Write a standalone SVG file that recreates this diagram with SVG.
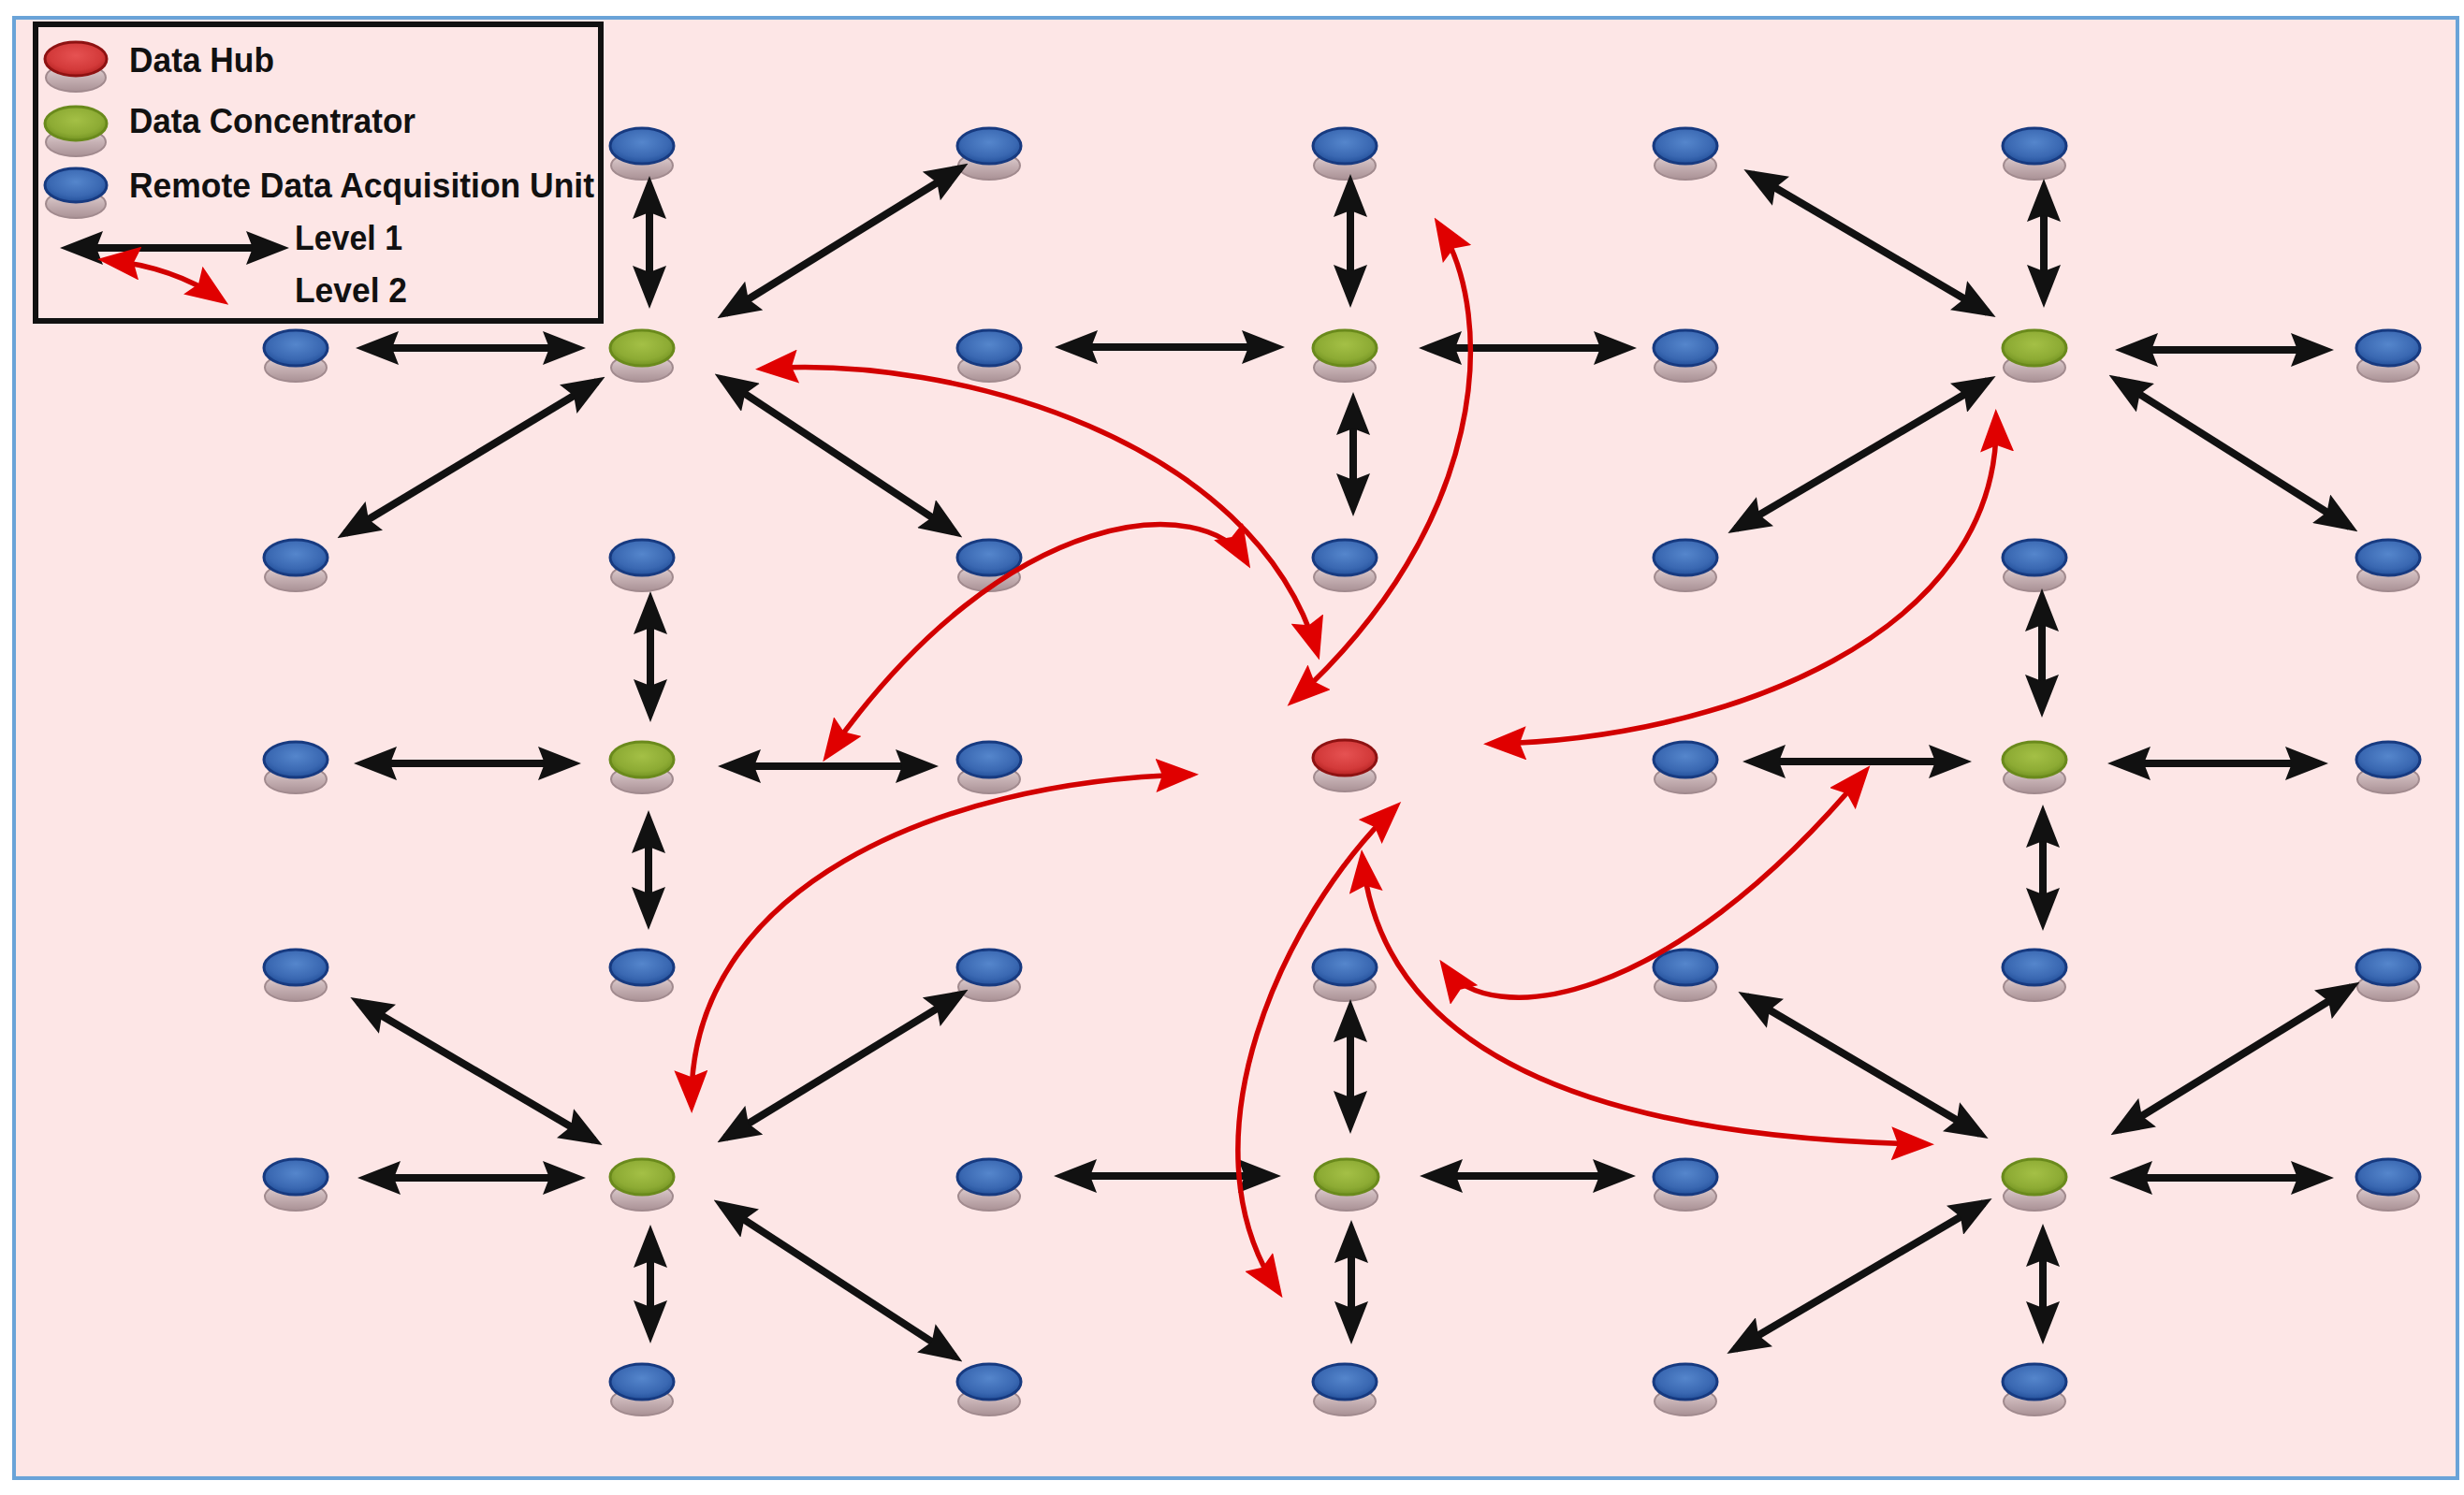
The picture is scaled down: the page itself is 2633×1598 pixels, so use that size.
<svg xmlns="http://www.w3.org/2000/svg" width="2633" height="1598" viewBox="0 0 2633 1598">
<defs>
<style>
.bg{fill:#fde6e6;stroke:#6aa3d8;stroke-width:4}
.legend-box{fill:none;stroke:#111;stroke-width:6}
.lt{font-family:"Liberation Sans",Arial,Helvetica,sans-serif;font-weight:700;font-size:37px;fill:#111}
.base{fill:url(#gBase);stroke:#a18a8e;stroke-width:2}
.blue .top{fill:url(#gBlue);stroke:#173a80;stroke-width:3}
.green .top{fill:url(#gGreen);stroke:#6a8a1c;stroke-width:3}
.red .top{fill:url(#gRed);stroke:#8e1212;stroke-width:3}
.l1{stroke:#111;stroke-width:8;fill:none;marker-start:url(#ab);marker-end:url(#ab)}
.l2{stroke:#d20000;stroke-width:5.5;fill:none;marker-start:url(#ar);marker-end:url(#ar)}
</style>
<radialGradient id="gBlue" cx="50%" cy="40%" r="60%"><stop offset="0" stop-color="#5586cc"/><stop offset="0.7" stop-color="#3a68b2"/><stop offset="1" stop-color="#23509a"/></radialGradient>
<radialGradient id="gGreen" cx="50%" cy="40%" r="60%"><stop offset="0" stop-color="#a4c046"/><stop offset="0.7" stop-color="#8dab34"/><stop offset="1" stop-color="#739322"/></radialGradient>
<radialGradient id="gRed" cx="50%" cy="40%" r="60%"><stop offset="0" stop-color="#e65252"/><stop offset="0.7" stop-color="#d33a3a"/><stop offset="1" stop-color="#b52222"/></radialGradient>
<linearGradient id="gBase" x1="0" y1="0" x2="0" y2="1"><stop offset="0" stop-color="#e8dadb"/><stop offset="0.5" stop-color="#c7b2b5"/><stop offset="1" stop-color="#a99195"/></linearGradient>
<marker id="ab" viewBox="0 0 46 36" refX="36" refY="18" markerWidth="46" markerHeight="36" markerUnits="userSpaceOnUse" orient="auto-start-reverse"><path d="M0,0 L46,18 L0,36 L7,18 Z" fill="#111"/></marker>
<marker id="ar" viewBox="0 0 46 36" refX="36" refY="18" markerWidth="46" markerHeight="36" markerUnits="userSpaceOnUse" orient="auto-start-reverse"><path d="M0,0 L46,18 L0,36 L7,18 Z" fill="#e00000"/></marker>
</defs>
<rect x="0" y="0" width="2633" height="1598" fill="#ffffff"/>
<rect class="bg" x="15" y="19" width="2611" height="1561"/>

<g id="legend">
<rect class="legend-box" x="38" y="26" width="604" height="317"/>
<g class="red"><ellipse class="base" cx="81" cy="83" rx="32" ry="15"/><ellipse class="top" cx="81" cy="63" rx="33" ry="18"/></g>
<g class="green"><ellipse class="base" cx="81" cy="152" rx="32" ry="15"/><ellipse class="top" cx="81" cy="132" rx="33" ry="18"/></g>
<g class="blue"><ellipse class="base" cx="81" cy="218" rx="32" ry="15"/><ellipse class="top" cx="81" cy="198" rx="33" ry="18"/></g>
<text class="lt" x="138" y="77" textLength="155" lengthAdjust="spacingAndGlyphs">Data Hub</text>
<text class="lt" x="138" y="142" textLength="306" lengthAdjust="spacingAndGlyphs">Data Concentrator</text>
<text class="lt" x="138" y="211" textLength="497" lengthAdjust="spacingAndGlyphs">Remote Data Acquisition Unit</text>
<line class="l1" x1="74" y1="265" x2="299" y2="265"/>
<path class="l2" d="M114,278 Q185,285 236,320"/>
<text class="lt" x="315" y="267" textLength="115" lengthAdjust="spacingAndGlyphs">Level 1</text>
<text class="lt" x="315" y="323" textLength="120" lengthAdjust="spacingAndGlyphs">Level 2</text>
</g>

<g id="nodes">
<g id="n-r0c1" class="blue"><ellipse class="base" cx="686" cy="177" rx="33" ry="15"/><ellipse class="top" cx="686" cy="156" rx="34" ry="19"/></g>
<g id="n-r0c2" class="blue"><ellipse class="base" cx="1057" cy="177" rx="33" ry="15"/><ellipse class="top" cx="1057" cy="156" rx="34" ry="19"/></g>
<g id="n-r0c3" class="blue"><ellipse class="base" cx="1437" cy="177" rx="33" ry="15"/><ellipse class="top" cx="1437" cy="156" rx="34" ry="19"/></g>
<g id="n-r0c4" class="blue"><ellipse class="base" cx="1801" cy="177" rx="33" ry="15"/><ellipse class="top" cx="1801" cy="156" rx="34" ry="19"/></g>
<g id="n-r0c5" class="blue"><ellipse class="base" cx="2174" cy="177" rx="33" ry="15"/><ellipse class="top" cx="2174" cy="156" rx="34" ry="19"/></g>

<g id="n-r1c0" class="blue"><ellipse class="base" cx="316" cy="393" rx="33" ry="15"/><ellipse class="top" cx="316" cy="372" rx="34" ry="19"/></g>
<g id="n-r1c1" class="green"><ellipse class="base" cx="686" cy="393" rx="33" ry="15"/><ellipse class="top" cx="686" cy="372" rx="34" ry="19"/></g>
<g id="n-r1c2" class="blue"><ellipse class="base" cx="1057" cy="393" rx="33" ry="15"/><ellipse class="top" cx="1057" cy="372" rx="34" ry="19"/></g>
<g id="n-r1c3" class="green"><ellipse class="base" cx="1437" cy="393" rx="33" ry="15"/><ellipse class="top" cx="1437" cy="372" rx="34" ry="19"/></g>
<g id="n-r1c4" class="blue"><ellipse class="base" cx="1801" cy="393" rx="33" ry="15"/><ellipse class="top" cx="1801" cy="372" rx="34" ry="19"/></g>
<g id="n-r1c5" class="green"><ellipse class="base" cx="2174" cy="393" rx="33" ry="15"/><ellipse class="top" cx="2174" cy="372" rx="34" ry="19"/></g>
<g id="n-r1c6" class="blue"><ellipse class="base" cx="2552" cy="393" rx="33" ry="15"/><ellipse class="top" cx="2552" cy="372" rx="34" ry="19"/></g>

<g id="n-r2c0" class="blue"><ellipse class="base" cx="316" cy="617" rx="33" ry="15"/><ellipse class="top" cx="316" cy="596" rx="34" ry="19"/></g>
<g id="n-r2c1" class="blue"><ellipse class="base" cx="686" cy="617" rx="33" ry="15"/><ellipse class="top" cx="686" cy="596" rx="34" ry="19"/></g>
<g id="n-r2c2" class="blue"><ellipse class="base" cx="1057" cy="617" rx="33" ry="15"/><ellipse class="top" cx="1057" cy="596" rx="34" ry="19"/></g>
<g id="n-r2c3" class="blue"><ellipse class="base" cx="1437" cy="617" rx="33" ry="15"/><ellipse class="top" cx="1437" cy="596" rx="34" ry="19"/></g>
<g id="n-r2c4" class="blue"><ellipse class="base" cx="1801" cy="617" rx="33" ry="15"/><ellipse class="top" cx="1801" cy="596" rx="34" ry="19"/></g>
<g id="n-r2c5" class="blue"><ellipse class="base" cx="2174" cy="617" rx="33" ry="15"/><ellipse class="top" cx="2174" cy="596" rx="34" ry="19"/></g>
<g id="n-r2c6" class="blue"><ellipse class="base" cx="2552" cy="617" rx="33" ry="15"/><ellipse class="top" cx="2552" cy="596" rx="34" ry="19"/></g>

<g id="n-r3c0" class="blue"><ellipse class="base" cx="316" cy="833" rx="33" ry="15"/><ellipse class="top" cx="316" cy="812" rx="34" ry="19"/></g>
<g id="n-r3c1" class="green"><ellipse class="base" cx="686" cy="833" rx="33" ry="15"/><ellipse class="top" cx="686" cy="812" rx="34" ry="19"/></g>
<g id="n-r3c2" class="blue"><ellipse class="base" cx="1057" cy="833" rx="33" ry="15"/><ellipse class="top" cx="1057" cy="812" rx="34" ry="19"/></g>
<g id="hub" class="red"><ellipse class="base" cx="1437" cy="831" rx="33" ry="15"/><ellipse class="top" cx="1437" cy="810" rx="34" ry="19"/></g>
<g id="n-r3c4" class="blue"><ellipse class="base" cx="1801" cy="833" rx="33" ry="15"/><ellipse class="top" cx="1801" cy="812" rx="34" ry="19"/></g>
<g id="n-r3c5" class="green"><ellipse class="base" cx="2174" cy="833" rx="33" ry="15"/><ellipse class="top" cx="2174" cy="812" rx="34" ry="19"/></g>
<g id="n-r3c6" class="blue"><ellipse class="base" cx="2552" cy="833" rx="33" ry="15"/><ellipse class="top" cx="2552" cy="812" rx="34" ry="19"/></g>

<g id="n-r4c0" class="blue"><ellipse class="base" cx="316" cy="1055" rx="33" ry="15"/><ellipse class="top" cx="316" cy="1034" rx="34" ry="19"/></g>
<g id="n-r4c1" class="blue"><ellipse class="base" cx="686" cy="1055" rx="33" ry="15"/><ellipse class="top" cx="686" cy="1034" rx="34" ry="19"/></g>
<g id="n-r4c2" class="blue"><ellipse class="base" cx="1057" cy="1055" rx="33" ry="15"/><ellipse class="top" cx="1057" cy="1034" rx="34" ry="19"/></g>
<g id="n-r4c3" class="blue"><ellipse class="base" cx="1437" cy="1055" rx="33" ry="15"/><ellipse class="top" cx="1437" cy="1034" rx="34" ry="19"/></g>
<g id="n-r4c4" class="blue"><ellipse class="base" cx="1801" cy="1055" rx="33" ry="15"/><ellipse class="top" cx="1801" cy="1034" rx="34" ry="19"/></g>
<g id="n-r4c5" class="blue"><ellipse class="base" cx="2174" cy="1055" rx="33" ry="15"/><ellipse class="top" cx="2174" cy="1034" rx="34" ry="19"/></g>
<g id="n-r4c6" class="blue"><ellipse class="base" cx="2552" cy="1055" rx="33" ry="15"/><ellipse class="top" cx="2552" cy="1034" rx="34" ry="19"/></g>

<g id="n-r5c0" class="blue"><ellipse class="base" cx="316" cy="1279" rx="33" ry="15"/><ellipse class="top" cx="316" cy="1258" rx="34" ry="19"/></g>
<g id="n-r5c1" class="green"><ellipse class="base" cx="686" cy="1279" rx="33" ry="15"/><ellipse class="top" cx="686" cy="1258" rx="34" ry="19"/></g>
<g id="n-r5c2" class="blue"><ellipse class="base" cx="1057" cy="1279" rx="33" ry="15"/><ellipse class="top" cx="1057" cy="1258" rx="34" ry="19"/></g>
<g id="n-r5c3" class="green"><ellipse class="base" cx="1439" cy="1279" rx="33" ry="15"/><ellipse class="top" cx="1439" cy="1258" rx="34" ry="19"/></g>
<g id="n-r5c4" class="blue"><ellipse class="base" cx="1801" cy="1279" rx="33" ry="15"/><ellipse class="top" cx="1801" cy="1258" rx="34" ry="19"/></g>
<g id="n-r5c5" class="green"><ellipse class="base" cx="2174" cy="1279" rx="33" ry="15"/><ellipse class="top" cx="2174" cy="1258" rx="34" ry="19"/></g>
<g id="n-r5c6" class="blue"><ellipse class="base" cx="2552" cy="1279" rx="33" ry="15"/><ellipse class="top" cx="2552" cy="1258" rx="34" ry="19"/></g>

<g id="n-r6c1" class="blue"><ellipse class="base" cx="686" cy="1498" rx="33" ry="15"/><ellipse class="top" cx="686" cy="1477" rx="34" ry="19"/></g>
<g id="n-r6c2" class="blue"><ellipse class="base" cx="1057" cy="1498" rx="33" ry="15"/><ellipse class="top" cx="1057" cy="1477" rx="34" ry="19"/></g>
<g id="n-r6c3" class="blue"><ellipse class="base" cx="1437" cy="1498" rx="33" ry="15"/><ellipse class="top" cx="1437" cy="1477" rx="34" ry="19"/></g>
<g id="n-r6c4" class="blue"><ellipse class="base" cx="1801" cy="1498" rx="33" ry="15"/><ellipse class="top" cx="1801" cy="1477" rx="34" ry="19"/></g>
<g id="n-r6c5" class="blue"><ellipse class="base" cx="2174" cy="1498" rx="33" ry="15"/><ellipse class="top" cx="2174" cy="1477" rx="34" ry="19"/></g>
</g>

<g id="connectors">
<g id="level1">
<line class="l1" x1="694" y1="198" x2="694" y2="320"/>
<line class="l1" x1="390" y1="372" x2="616" y2="372"/>
<line class="l1" x1="775" y1="335" x2="1026" y2="180"/>
<line class="l1" x1="638" y1="408" x2="369" y2="570"/>
<line class="l1" x1="772" y1="405" x2="1020" y2="569"/>

<line class="l1" x1="1443" y1="196" x2="1443" y2="319"/>
<line class="l1" x1="1446" y1="429" x2="1446" y2="542"/>
<line class="l1" x1="1137" y1="371" x2="1363" y2="371"/>
<line class="l1" x1="1526" y1="372" x2="1739" y2="372"/>

<line class="l1" x1="2184" y1="201" x2="2184" y2="319"/>
<line class="l1" x1="1872" y1="186" x2="2124" y2="334"/>
<line class="l1" x1="2270" y1="374" x2="2484" y2="374"/>
<line class="l1" x1="2124" y1="407" x2="1855" y2="565"/>
<line class="l1" x1="2262" y1="406" x2="2511" y2="563"/>

<line class="l1" x1="695" y1="642" x2="695" y2="762"/>
<line class="l1" x1="693" y1="876" x2="693" y2="984"/>
<line class="l1" x1="388" y1="816" x2="611" y2="816"/>
<line class="l1" x1="777" y1="819" x2="993" y2="819"/>

<line class="l1" x1="2182" y1="639" x2="2182" y2="757"/>
<line class="l1" x1="2183" y1="870" x2="2183" y2="985"/>
<line class="l1" x1="1872" y1="814" x2="2097" y2="814"/>
<line class="l1" x1="2262" y1="816" x2="2478" y2="816"/>

<line class="l1" x1="383" y1="1071" x2="635" y2="1219"/>
<line class="l1" x1="392" y1="1259" x2="616" y2="1259"/>
<line class="l1" x1="775" y1="1216" x2="1026" y2="1063"/>
<line class="l1" x1="695" y1="1319" x2="695" y2="1426"/>
<line class="l1" x1="771" y1="1288" x2="1020" y2="1450"/>

<line class="l1" x1="1443" y1="1078" x2="1443" y2="1202"/>
<line class="l1" x1="1444" y1="1314" x2="1444" y2="1427"/>
<line class="l1" x1="1136" y1="1257" x2="1359" y2="1257"/>
<line class="l1" x1="1527" y1="1257" x2="1738" y2="1257"/>

<line class="l1" x1="1866" y1="1065" x2="2116" y2="1212"/>
<line class="l1" x1="2264" y1="1208" x2="2513" y2="1055"/>
<line class="l1" x1="2264" y1="1259" x2="2484" y2="1259"/>
<line class="l1" x1="2120" y1="1286" x2="1854" y2="1442"/>
<line class="l1" x1="2183" y1="1318" x2="2183" y2="1427"/>
</g>
<g id="level2">
<path class="l2" d="M817,394 C1020,380 1340,470 1407,696"/>
<path class="l2" d="M1538,241 C1600,340 1590,560 1383,748"/>
<path class="l2" d="M1331,599 C1290,530 1080,530 885,806"/>
<path class="l2" d="M1271,828 C1000,835 735,950 739,1180"/>
<path class="l2" d="M1595,795 C1840,790 2140,680 2133,447"/>
<path class="l2" d="M1490,864 C1370,980 1260,1220 1365,1379"/>
<path class="l2" d="M1456,918 C1475,1100 1650,1215 2057,1223"/>
<path class="l2" d="M1544,1034 C1590,1100 1780,1080 1992,826"/>
</g>
</g>
</svg>
